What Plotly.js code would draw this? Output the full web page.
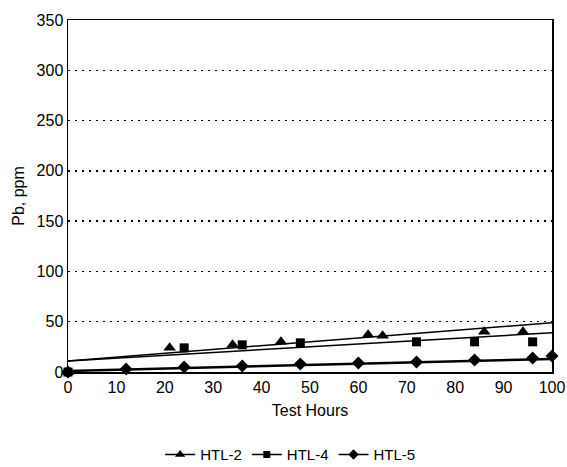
<!DOCTYPE html>
<html><head><meta charset="utf-8">
<script src="https://cdn.plot.ly/plotly-3.0.1.min.js"></script>
<style>body{margin:0;background:#fff}#c{width:567px;height:467px}</style>
</head><body><div id="c"></div>
<script>
var seriesNames = ["HTL-2", "HTL-4", "HTL-5"];
var symbols = ["triangle-up", "square", "diamond"];
var htl2X = [0, 21, 34, 44, 62, 65, 86, 94];
var htl2Y = [0, 24, 27, 30, 37, 36, 40, 40];
var htl4X = [0, 24, 36, 48, 72, 84, 96];
var htl4Y = [0, 24, 27, 29, 30, 30, 30];
var htl5X = [0, 12, 24, 36, 48, 60, 72, 84, 96, 100];
var htl5Y = [0, 3, 5, 6, 8, 9, 10, 12, 14, 16];
var trendX = [0, 100];
var trend2Y = [11, 49];
var trend4Y = [11, 39];
var trend5Y = [1, 13];
var yTicks = [0, 50, 100, 150, 200, 250, 300, 350];
var xTicks = [0, 10, 20, 30, 40, 50, 60, 70, 80, 90, 100];

var F = "Liberation Sans, Arial, sans-serif";
var xs = [htl2X, htl4X, htl5X], ys = [htl2Y, htl4Y, htl5Y];
var trends = [trend2Y, trend4Y, trend5Y];
var sizes = [11, 9, 10];
var traces = [];
for (var i = 0; i < 3; i++) {
  traces.push({x: trendX, y: trends[i], mode: "lines", line: {color: "#000", width: i === 2 ? 2.5 : 1.5}, showlegend: false, hoverinfo: "skip", cliponaxis: false});
}
for (var i = 0; i < 3; i++) {
  traces.push({x: xs[i], y: ys[i], mode: "markers", marker: {symbol: symbols[i], size: sizes[i], color: "#000"}, showlegend: false, cliponaxis: false});
}
for (var i = 0; i < 3; i++) {
  traces.push({x: [null], y: [null], mode: "lines+markers", name: seriesNames[i], marker: {symbol: symbols[i], size: sizes[i] - 2, color: "#000"}, line: {color: "#000", width: 1.5}});
}
var layout = {
  width: 567, height: 467,
  margin: {l: 68, r: 15, t: 20, b: 95, autoexpand: false},
  paper_bgcolor: "#fff", plot_bgcolor: "#fff",
  font: {family: F, size: 16, color: "#000"},
  xaxis: {range: [0, 100], tickvals: xTicks, ticktext: xTicks.map(String), showgrid: false, zeroline: false,
          showline: true, linecolor: "#000", linewidth: 1.5, mirror: true, ticks: "", ticklen: 0,
          tickfont: {size: 16, color: "#000"},
          title: {text: "Test Hours", font: {size: 16, color: "#000"}, standoff: 10}},
  yaxis: {range: [0, 350], tickvals: yTicks, ticktext: yTicks.map(String), showgrid: true, griddash: "2px,5px",
          gridcolor: "#000", gridwidth: 1.5, zeroline: false, showline: true, linecolor: "#000", linewidth: 1.5,
          mirror: true, ticks: "", tickfont: {size: 16, color: "#000"},
          title: {text: "Pb, ppm", font: {size: 16, color: "#000"}, standoff: 8}},
  showlegend: true,
  legend: {orientation: "h", x: 0.46, xanchor: "center", y: -0.235, yanchor: "middle", font: {size: 15, color: "#000"}, itemwidth: 30, tracegroupgap: 0}
};
Plotly.newPlot("c", traces, layout, {displayModeBar: false, staticPlot: true});
</script></body></html>
